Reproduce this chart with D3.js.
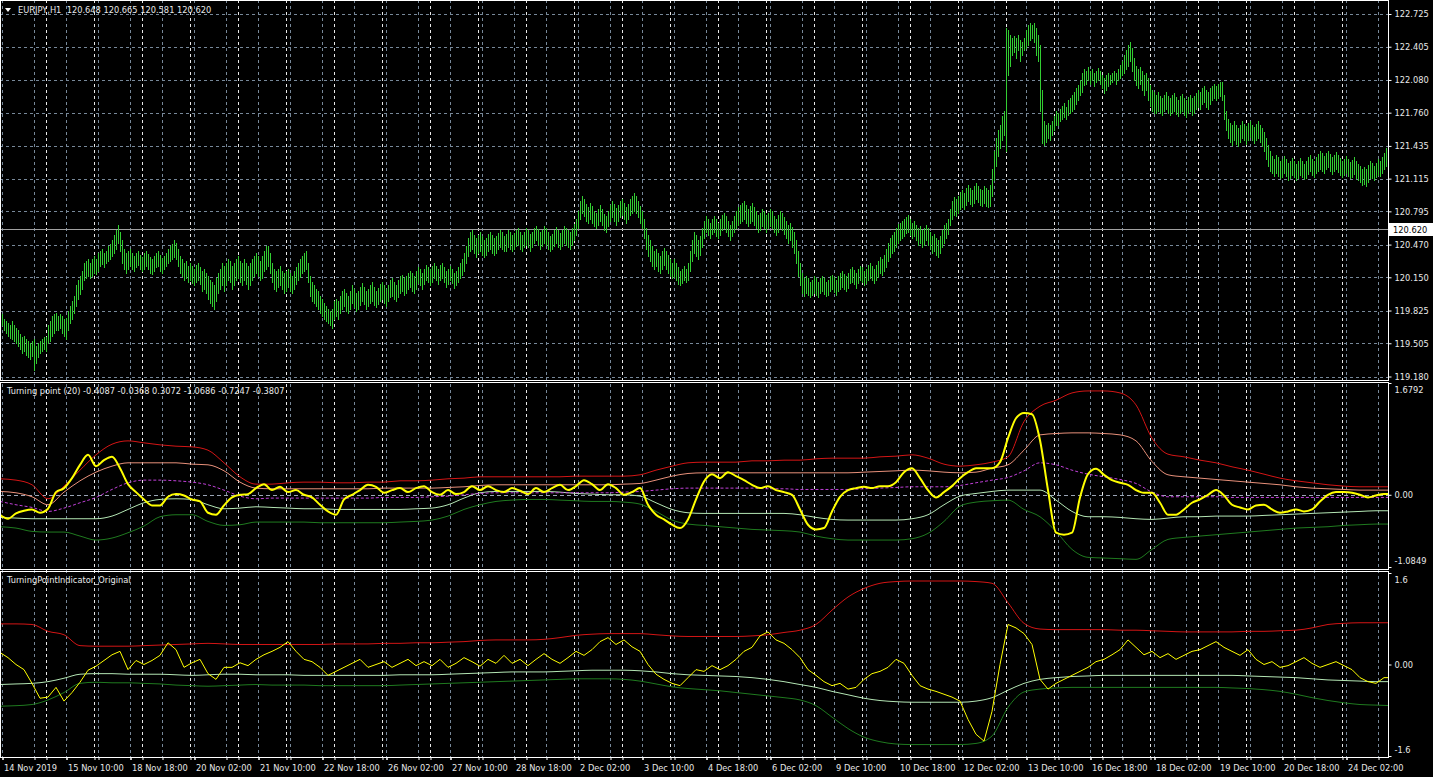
<!DOCTYPE html>
<html>
<head>
<meta charset="utf-8">
<script src="https://cdn.jsdelivr.net/npm/d3@7"></script>
<style>
  body { margin: 0; background: #000; }
  svg text { font-family: "DejaVu Sans Condensed", "DejaVu Sans", sans-serif; font-size: 9.2px; }
</style>
</head>
<body>
<script>
// ---- price bars, EURJPY H1, one value per hour from 14 Nov 01:00 ----
var barHigh = [
  // 14 Nov
  119.80,119.79,119.74,119.72,119.70,119.68,119.72,119.68,119.65,119.63,119.60,119.57,119.58,119.55,119.53,119.51,119.53,119.55,119.48,119.51,119.53,119.55,119.57,
  // 15 Nov
  119.57,119.68,119.72,119.77,119.79,119.80,119.77,119.79,119.77,119.74,119.75,119.82,119.87,119.92,119.97,120.07,120.12,120.16,120.21,120.29,120.31,120.33,120.29,120.33,
  // 18 Nov
  120.36,120.33,120.39,120.41,120.43,120.39,120.41,120.46,120.48,120.51,120.56,120.61,120.66,120.59,120.51,120.43,120.39,120.41,120.43,120.39,120.36,120.39,120.41,120.37,
  // 19 Nov
  120.35,120.39,120.41,120.38,120.35,120.33,120.36,120.39,120.41,120.37,120.34,120.36,120.39,120.43,120.46,120.48,120.51,120.49,120.43,120.36,120.33,120.29,120.31,120.26,
  // 20 Nov
  120.29,120.26,120.23,120.27,120.29,120.25,120.21,120.23,120.19,120.16,120.12,120.10,120.07,120.14,120.19,120.23,120.29,120.26,120.29,120.33,120.31,120.26,120.29,120.33,
  // 21 Nov
  120.36,120.31,120.29,120.33,120.29,120.26,120.29,120.33,120.36,120.39,120.36,120.31,120.36,120.41,120.46,120.46,120.39,120.29,120.23,120.21,120.23,120.26,120.21,120.19,
  // 22 Nov
  120.21,120.23,120.19,120.16,120.21,120.25,120.29,120.33,120.36,120.39,120.41,120.29,120.16,120.10,120.07,120.04,120.02,119.97,119.94,119.90,119.87,119.84,119.82,119.84,
  // 25 Nov
  119.92,119.94,119.92,119.97,120.02,120.04,120.00,119.97,120.02,120.07,120.04,120.00,120.02,120.06,120.09,120.06,120.02,120.04,120.07,120.10,120.06,120.02,120.05,120.08,
  // 26 Nov
  120.10,120.07,120.04,120.07,120.12,120.14,120.10,120.07,120.12,120.16,120.17,120.14,120.16,120.19,120.21,120.19,120.16,120.21,120.25,120.23,120.19,120.23,120.27,120.25,
  // 27 Nov
  120.23,120.26,120.29,120.26,120.23,120.27,120.29,120.25,120.21,120.23,120.26,120.23,120.19,120.21,120.25,120.29,120.33,120.39,120.46,120.53,120.59,120.61,120.56,120.53,
  // 28 Nov
  120.56,120.59,120.55,120.51,120.53,120.57,120.59,120.56,120.53,120.55,120.58,120.61,120.59,120.55,120.57,120.61,120.59,120.56,120.58,120.61,120.63,120.59,120.56,120.59,
  // 29 Nov
  120.63,120.61,120.57,120.59,120.63,120.65,120.62,120.59,120.61,120.65,120.63,120.59,120.55,120.57,120.61,120.64,120.61,120.58,120.61,120.65,120.63,120.61,120.59,120.63,
  // 2 Dec
  120.67,120.72,120.80,120.90,120.95,120.92,120.87,120.84,120.88,120.85,120.80,120.78,120.82,120.86,120.82,120.77,120.75,120.80,120.86,120.90,120.87,120.83,120.86,120.90,
  // 3 Dec
  120.92,120.88,120.84,120.87,120.92,120.95,120.97,120.95,120.90,120.85,120.80,120.72,120.63,120.56,120.51,120.46,120.41,120.43,120.39,120.36,120.41,120.44,120.41,120.37,
  // 4 Dec
  120.33,120.29,120.33,120.29,120.25,120.21,120.23,120.26,120.23,120.29,120.41,120.51,120.59,120.56,120.51,120.55,120.63,120.70,120.75,120.72,120.68,120.72,120.75,120.72,
  // 5 Dec
  120.68,120.72,120.76,120.78,120.75,120.70,120.66,120.70,120.75,120.80,120.84,120.86,120.88,120.90,120.86,120.82,120.85,120.88,120.84,120.80,120.76,120.78,120.82,120.80,
  // 6 Dec
  120.76,120.78,120.82,120.80,120.75,120.72,120.76,120.80,120.78,120.74,120.70,120.66,120.68,120.64,120.59,120.51,120.41,120.29,120.19,120.14,120.16,120.14,120.10,120.12,
  // 9 Dec
  120.16,120.14,120.10,120.14,120.16,120.14,120.10,120.12,120.16,120.17,120.15,120.12,120.16,120.19,120.21,120.18,120.16,120.19,120.23,120.25,120.22,120.19,120.23,120.26,
  // 10 Dec
  120.25,120.21,120.23,120.27,120.29,120.26,120.23,120.27,120.31,120.35,120.33,120.37,120.43,120.49,120.53,120.56,120.59,120.63,120.67,120.68,120.70,120.72,120.74,120.76,
  // 11 Dec
  120.72,120.68,120.70,120.66,120.63,120.65,120.61,120.63,120.66,120.63,120.59,120.55,120.57,120.53,120.51,120.55,120.61,120.66,120.68,120.72,120.82,120.90,120.94,120.92,
  // 12 Dec
  120.95,120.98,121.00,120.97,121.02,121.05,121.02,121.00,121.04,121.07,121.04,121.01,121.00,121.04,121.02,121.00,121.05,121.21,121.39,121.51,121.59,121.64,121.73,121.78,
  // 13 Dec
  122.59,122.57,122.52,122.49,122.51,122.49,122.52,122.47,122.45,122.49,122.57,122.62,122.64,122.62,122.64,122.59,122.52,122.42,121.98,121.68,121.64,121.66,121.64,121.68,
  // 16 Dec
  121.73,121.78,121.76,121.80,121.83,121.85,121.82,121.88,121.90,121.93,121.96,122.00,122.03,122.08,122.15,122.19,122.17,122.21,122.17,122.19,122.15,122.17,122.20,122.17,
  // 17 Dec
  122.13,122.10,122.13,122.15,122.13,122.15,122.17,122.15,122.19,122.23,122.27,122.32,122.37,122.42,122.45,122.39,122.29,122.22,122.19,122.21,122.17,122.13,122.15,122.10,
  // 18 Dec
  122.03,121.98,121.96,121.93,121.96,121.92,121.90,121.93,121.96,121.92,121.90,121.93,121.95,121.91,121.88,121.92,121.94,121.90,121.88,121.91,121.93,121.90,121.92,121.95,
  // 19 Dec
  121.98,121.96,122.00,122.02,121.98,121.96,122.00,122.02,122.04,122.02,122.04,122.06,122.06,121.93,121.78,121.70,121.66,121.64,121.68,121.64,121.61,121.64,121.68,121.65,
  // 20 Dec
  121.63,121.66,121.68,121.64,121.62,121.65,121.68,121.64,121.61,121.57,121.51,121.44,121.39,121.34,121.31,121.35,121.33,121.29,121.31,121.34,121.31,121.27,121.29,121.32,
  // 23 Dec
  121.29,121.26,121.29,121.32,121.29,121.26,121.29,121.33,121.35,121.31,121.29,121.33,121.36,121.39,121.37,121.34,121.37,121.39,121.36,121.33,121.35,121.38,121.35,121.32,
  // 24 Dec
  121.29,121.31,121.34,121.31,121.28,121.30,121.33,121.29,121.26,121.24,121.21,121.23,121.21,121.25,121.29,121.27,121.24,121.27,121.31,121.29,121.33,121.37,121.41
];
var barLow = [
  119.65,119.68,119.63,119.61,119.58,119.56,119.55,119.53,119.51,119.48,119.45,119.41,119.43,119.39,119.37,119.35,119.38,119.24,119.31,119.37,119.41,119.43,119.45,
  119.43,119.51,119.53,119.58,119.61,119.63,119.63,119.65,119.61,119.58,119.55,119.63,119.70,119.74,119.80,119.87,119.94,119.99,120.04,120.12,120.14,120.16,120.14,120.16,
  120.19,120.18,120.21,120.26,120.28,120.25,120.29,120.31,120.33,120.36,120.39,120.43,120.49,120.41,120.29,120.23,120.19,120.23,120.26,120.23,120.21,120.25,120.27,120.23,
  120.21,120.23,120.26,120.23,120.19,120.18,120.21,120.25,120.26,120.21,120.19,120.23,120.26,120.29,120.31,120.33,120.35,120.33,120.26,120.19,120.16,120.12,120.14,120.10,
  120.12,120.09,120.07,120.10,120.12,120.08,120.02,120.04,120.00,119.94,119.90,119.87,119.84,119.92,120.00,120.04,120.07,120.02,120.07,120.12,120.10,120.04,120.07,120.12,
  120.14,120.10,120.07,120.12,120.08,120.04,120.07,120.12,120.16,120.19,120.16,120.12,120.14,120.21,120.23,120.26,120.19,120.10,120.04,120.02,120.06,120.07,120.04,120.00,
  120.02,120.06,120.02,120.00,120.04,120.08,120.12,120.15,120.19,120.21,120.23,120.10,119.97,119.92,119.90,119.87,119.84,119.80,119.77,119.74,119.72,119.70,119.68,119.65,
  119.74,119.77,119.74,119.80,119.84,119.87,119.82,119.80,119.84,119.90,119.86,119.82,119.84,119.88,119.92,119.89,119.84,119.87,119.90,119.92,119.88,119.86,119.89,119.92,
  119.94,119.90,119.87,119.92,119.96,119.97,119.94,119.92,119.96,120.00,120.02,119.98,120.00,120.04,120.06,120.02,120.00,120.04,120.09,120.07,120.04,120.08,120.12,120.10,
  120.07,120.10,120.14,120.12,120.08,120.12,120.14,120.10,120.06,120.08,120.12,120.09,120.05,120.07,120.10,120.14,120.17,120.21,120.29,120.36,120.41,120.43,120.39,120.35,
  120.39,120.41,120.37,120.35,120.37,120.41,120.43,120.39,120.37,120.39,120.43,120.45,120.43,120.41,120.41,120.45,120.43,120.41,120.43,120.46,120.47,120.43,120.41,120.45,
  120.47,120.45,120.41,120.45,120.49,120.51,120.47,120.43,120.46,120.49,120.47,120.43,120.41,120.43,120.46,120.49,120.45,120.43,120.46,120.49,120.47,120.45,120.43,120.47,
  120.51,120.56,120.63,120.72,120.78,120.75,120.70,120.68,120.72,120.68,120.65,120.63,120.66,120.70,120.66,120.61,120.59,120.65,120.70,120.74,120.70,120.66,120.70,120.74,
  120.76,120.72,120.68,120.72,120.76,120.78,120.80,120.78,120.74,120.68,120.63,120.53,120.43,120.36,120.31,120.26,120.23,120.26,120.21,120.19,120.23,120.27,120.23,120.19,
  120.16,120.14,120.15,120.12,120.08,120.07,120.09,120.12,120.10,120.12,120.21,120.31,120.39,120.36,120.33,120.37,120.45,120.53,120.59,120.56,120.53,120.57,120.59,120.55,
  120.53,120.56,120.61,120.63,120.59,120.55,120.51,120.55,120.59,120.63,120.66,120.68,120.70,120.72,120.68,120.65,120.68,120.70,120.66,120.63,120.59,120.61,120.65,120.63,
  120.59,120.63,120.65,120.63,120.59,120.56,120.59,120.63,120.61,120.57,120.53,120.49,120.51,120.45,120.39,120.29,120.16,120.07,120.00,119.97,120.00,119.98,119.96,119.98,
  120.00,119.98,119.96,120.00,120.02,119.99,119.97,119.98,120.02,120.04,120.01,119.98,120.02,120.04,120.06,120.04,120.02,120.05,120.09,120.10,120.08,120.05,120.09,120.12,
  120.10,120.07,120.09,120.12,120.14,120.12,120.09,120.12,120.15,120.19,120.17,120.21,120.25,120.31,120.35,120.39,120.41,120.45,120.49,120.51,120.53,120.55,120.58,120.59,
  120.56,120.53,120.55,120.51,120.47,120.49,120.45,120.47,120.51,120.47,120.43,120.39,120.41,120.37,120.35,120.39,120.45,120.49,120.53,120.57,120.66,120.72,120.76,120.75,
  120.78,120.82,120.84,120.82,120.86,120.90,120.87,120.85,120.88,120.92,120.89,120.86,120.85,120.88,120.85,120.84,120.85,120.95,121.10,121.24,121.34,121.41,121.49,121.54,
  121.39,122.13,122.22,122.32,122.35,122.29,122.37,122.27,122.32,122.37,122.39,122.42,122.47,122.49,122.45,122.32,122.27,121.78,121.46,121.44,121.47,121.51,121.49,121.54,
  121.59,121.64,121.64,121.68,121.70,121.72,121.70,121.74,121.76,121.78,121.80,121.84,121.88,121.93,121.96,122.03,122.04,122.08,122.04,122.08,122.02,122.06,122.08,122.04,
  122.00,121.95,121.98,122.02,122.04,122.06,122.08,122.04,122.08,122.10,122.13,122.15,122.19,122.22,122.27,122.17,122.08,122.03,122.00,122.04,121.98,121.93,121.98,121.88,
  121.83,121.78,121.76,121.76,121.78,121.76,121.74,121.78,121.80,121.76,121.74,121.76,121.78,121.75,121.73,121.76,121.78,121.74,121.72,121.76,121.78,121.74,121.76,121.80,
  121.82,121.80,121.84,121.86,121.82,121.80,121.84,121.88,121.90,121.88,121.90,121.92,121.88,121.70,121.59,121.51,121.47,121.44,121.49,121.45,121.43,121.47,121.51,121.49,
  121.45,121.49,121.52,121.49,121.46,121.49,121.51,121.47,121.43,121.39,121.31,121.24,121.19,121.17,121.14,121.17,121.14,121.12,121.13,121.17,121.14,121.10,121.12,121.15,
  121.13,121.10,121.12,121.15,121.13,121.11,121.12,121.16,121.19,121.15,121.13,121.17,121.19,121.21,121.19,121.17,121.21,121.23,121.19,121.16,121.19,121.21,121.18,121.15,
  121.13,121.15,121.17,121.14,121.12,121.13,121.16,121.12,121.10,121.08,121.05,121.06,121.04,121.08,121.12,121.12,121.10,121.13,121.15,121.14,121.17,121.21,121.24
];
var lastPrice = 120.620;
var mainTicks = [122.725,122.405,122.080,121.760,121.435,121.115,120.795,120.470,120.150,119.825,119.505,119.180];

// ---- Turning point (20): one value every 8 bars (bands), every 4 bars (main) ----
var tpRed = [0.24,0.22,0.15,-0.06,0.13,0.37,0.60,0.76,
  0.81,0.78,0.75,0.73,0.72,0.67,0.48,0.27,
  0.16,0.16,0.18,0.19,0.19,0.18,0.18,0.19,
  0.19,0.21,0.21,0.22,0.24,0.25,0.27,0.27,
  0.27,0.27,0.27,0.27,0.28,0.28,0.28,0.28,
  0.30,0.37,0.43,0.48,0.49,0.49,0.49,0.51,
  0.51,0.52,0.52,0.54,0.55,0.55,0.55,0.57,
  0.58,0.60,0.55,0.46,0.43,0.45,0.49,0.57,
  1.10,1.33,1.42,1.53,1.56,1.56,1.53,1.35,
  0.85,0.61,0.57,0.52,0.48,0.42,0.37,0.31,
  0.25,0.21,0.18,0.15,0.13,0.12,0.12,0.12];
var tpSalmon = [0.05,0.03,-0.03,-0.15,0.04,0.21,0.34,0.43,
  0.48,0.48,0.48,0.48,0.46,0.45,0.36,0.19,
  0.10,0.09,0.09,0.09,0.09,0.09,0.09,0.09,
  0.10,0.10,0.10,0.10,0.11,0.12,0.14,0.15,
  0.15,0.15,0.15,0.15,0.15,0.15,0.15,0.16,
  0.17,0.22,0.28,0.32,0.33,0.33,0.33,0.33,
  0.33,0.33,0.33,0.33,0.33,0.33,0.34,0.35,
  0.36,0.37,0.36,0.34,0.33,0.34,0.40,0.45,
  0.67,0.90,0.92,0.93,0.93,0.92,0.90,0.81,
  0.50,0.30,0.27,0.25,0.23,0.21,0.19,0.17,
  0.15,0.12,0.10,0.09,0.08,0.07,0.07,0.07];
var tpMid = [-0.10,-0.15,-0.19,-0.25,-0.20,-0.12,-0.04,0.08,
  0.18,0.22,0.22,0.21,0.19,0.15,0.07,-0.02,
  -0.06,-0.05,-0.05,-0.05,-0.05,-0.05,-0.05,-0.05,
  -0.04,-0.04,-0.04,-0.03,-0.02,0.00,0.02,0.03,
  0.03,0.03,0.03,0.03,0.03,0.03,0.03,0.04,
  0.05,0.07,0.09,0.10,0.10,0.10,0.10,0.10,
  0.09,0.09,0.08,0.08,0.08,0.08,0.09,0.10,
  0.11,0.12,0.12,0.12,0.14,0.18,0.22,0.26,
  0.36,0.48,0.45,0.37,0.31,0.27,0.23,0.17,
  0.04,-0.03,-0.03,-0.03,-0.03,-0.04,-0.04,-0.04,
  -0.04,-0.04,-0.04,-0.04,-0.04,-0.04,-0.04,-0.04];
var tpLight = [-0.34,-0.35,-0.36,-0.36,-0.36,-0.36,-0.36,-0.32,
  -0.22,-0.12,-0.07,-0.06,-0.07,-0.15,-0.21,-0.20,
  -0.18,-0.19,-0.20,-0.21,-0.21,-0.22,-0.22,-0.22,
  -0.22,-0.22,-0.21,-0.20,-0.15,-0.05,0.03,0.05,
  0.05,0.05,0.05,0.04,0.02,0.01,0.00,0.00,
  -0.02,-0.12,-0.22,-0.27,-0.28,-0.28,-0.28,-0.28,
  -0.28,-0.28,-0.30,-0.34,-0.37,-0.38,-0.38,-0.38,
  -0.38,-0.36,-0.30,-0.15,-0.02,0.02,0.05,0.07,
  0.07,0.07,-0.08,-0.25,-0.33,-0.33,-0.34,-0.36,
  -0.37,-0.35,-0.33,-0.33,-0.32,-0.32,-0.32,-0.31,
  -0.30,-0.29,-0.28,-0.27,-0.26,-0.25,-0.24,-0.24];
var tpDark = [-0.48,-0.50,-0.55,-0.56,-0.56,-0.62,-0.68,-0.65,
  -0.57,-0.47,-0.33,-0.30,-0.30,-0.40,-0.46,-0.45,
  -0.41,-0.41,-0.41,-0.41,-0.42,-0.42,-0.42,-0.42,
  -0.42,-0.41,-0.40,-0.38,-0.32,-0.22,-0.15,-0.10,
  -0.08,-0.07,-0.07,-0.08,-0.09,-0.10,-0.10,-0.11,
  -0.14,-0.25,-0.38,-0.44,-0.46,-0.48,-0.50,-0.52,
  -0.53,-0.54,-0.56,-0.62,-0.66,-0.68,-0.68,-0.68,
  -0.68,-0.66,-0.58,-0.40,-0.17,-0.11,-0.09,-0.08,
  -0.22,-0.33,-0.55,-0.82,-0.94,-0.95,-0.96,-0.97,
  -0.82,-0.67,-0.64,-0.62,-0.60,-0.58,-0.56,-0.54,
  -0.52,-0.50,-0.49,-0.48,-0.46,-0.45,-0.44,-0.44];
var tpMain = [-0.30,-0.36,-0.28,-0.24,-0.22,-0.27,-0.21,0.04,
  0.10,0.25,0.45,0.60,0.43,0.52,0.57,0.40,
  0.16,0.04,-0.07,-0.16,-0.16,-0.03,0.01,-0.01,
  -0.07,-0.10,-0.27,-0.30,-0.16,-0.04,0.00,0.01,
  0.10,0.16,0.07,0.12,0.04,0.07,0.00,-0.04,
  -0.15,-0.25,-0.30,-0.07,0.00,0.07,0.15,0.12,
  0.03,0.07,0.10,0.04,0.10,0.13,0.04,0.00,
  0.07,0.01,0.04,0.13,0.07,0.13,0.07,0.04,
  0.10,0.06,0.01,0.10,0.04,0.10,0.15,0.07,
  0.13,0.22,0.16,0.07,0.16,0.10,0.00,0.04,
  0.10,-0.15,-0.30,-0.37,-0.45,-0.50,-0.37,-0.07,
  0.20,0.31,0.25,0.34,0.28,0.22,0.15,0.10,
  0.13,0.07,0.04,0.00,-0.22,-0.45,-0.52,-0.50,
  -0.25,-0.03,0.07,0.10,0.12,0.10,0.13,0.13,
  0.19,0.34,0.40,0.25,0.07,-0.04,0.04,0.13,
  0.25,0.34,0.40,0.40,0.40,0.49,0.85,1.15,
  1.23,1.21,0.82,0.07,-0.57,-0.60,-0.57,-0.04,
  0.31,0.39,0.30,0.22,0.18,0.15,0.07,0.03,
  0.03,-0.12,-0.30,-0.30,-0.22,-0.12,-0.07,0.00,
  0.07,-0.01,-0.15,-0.19,-0.22,-0.16,-0.15,-0.22,
  -0.27,-0.25,-0.22,-0.25,-0.22,-0.10,0.00,0.04,
  0.04,0.03,0.00,-0.04,-0.01,0.01,0.01];

// ---- TurningPointIndicator_Original ----
var origRed = [0.71,0.71,0.70,0.58,0.52,0.33,0.32,0.32,
  0.32,0.33,0.34,0.35,0.36,0.37,0.36,0.35,
  0.35,0.35,0.35,0.35,0.35,0.36,0.36,0.36,
  0.37,0.37,0.38,0.38,0.39,0.40,0.42,0.43,
  0.43,0.43,0.44,0.47,0.51,0.53,0.54,0.54,
  0.54,0.52,0.50,0.49,0.49,0.49,0.49,0.50,
  0.52,0.56,0.60,0.70,0.95,1.18,1.33,1.42,
  1.45,1.46,1.46,1.46,1.46,1.45,1.42,1.08,
  0.72,0.62,0.61,0.61,0.61,0.61,0.60,0.60,
  0.59,0.58,0.57,0.57,0.57,0.57,0.58,0.58,
  0.59,0.60,0.64,0.70,0.72,0.73,0.73,0.73];
var origLight = [-0.35,-0.34,-0.33,-0.30,-0.24,-0.17,-0.16,-0.16,
  -0.17,-0.17,-0.17,-0.18,-0.19,-0.18,-0.17,-0.17,
  -0.18,-0.18,-0.18,-0.19,-0.19,-0.19,-0.19,-0.19,
  -0.19,-0.18,-0.18,-0.18,-0.17,-0.16,-0.15,-0.14,
  -0.13,-0.13,-0.13,-0.12,-0.11,-0.10,-0.10,-0.10,
  -0.11,-0.13,-0.16,-0.18,-0.19,-0.20,-0.21,-0.23,
  -0.26,-0.30,-0.35,-0.40,-0.47,-0.53,-0.59,-0.63,
  -0.65,-0.66,-0.66,-0.66,-0.66,-0.64,-0.58,-0.45,
  -0.33,-0.26,-0.23,-0.21,-0.20,-0.19,-0.19,-0.19,
  -0.19,-0.19,-0.19,-0.19,-0.19,-0.19,-0.20,-0.21,
  -0.22,-0.23,-0.25,-0.27,-0.28,-0.29,-0.30,-0.30];
var origDark = [-0.73,-0.72,-0.70,-0.62,-0.49,-0.33,-0.31,-0.32,
  -0.32,-0.33,-0.34,-0.36,-0.37,-0.38,-0.37,-0.36,
  -0.35,-0.36,-0.36,-0.36,-0.37,-0.37,-0.37,-0.37,
  -0.37,-0.36,-0.35,-0.34,-0.33,-0.32,-0.31,-0.30,
  -0.29,-0.28,-0.27,-0.26,-0.25,-0.25,-0.25,-0.26,
  -0.29,-0.34,-0.39,-0.42,-0.44,-0.46,-0.49,-0.52,
  -0.55,-0.58,-0.62,-0.72,-0.92,-1.12,-1.27,-1.35,
  -1.39,-1.40,-1.40,-1.40,-1.40,-1.38,-1.25,-0.75,
  -0.48,-0.43,-0.41,-0.40,-0.40,-0.40,-0.40,-0.40,
  -0.40,-0.40,-0.40,-0.40,-0.40,-0.41,-0.42,-0.44,
  -0.47,-0.52,-0.58,-0.63,-0.67,-0.70,-0.71,-0.72];
var origMain = [0.21,0.12,0.00,-0.09,-0.33,-0.59,-0.57,-0.40,
  -0.64,-0.49,-0.31,-0.10,-0.03,0.07,0.17,0.23,
  -0.09,0.07,0.00,0.07,0.16,0.38,0.26,-0.05,
  0.03,0.09,-0.16,-0.26,-0.05,-0.05,0.03,-0.02,
  0.09,0.17,0.23,0.30,0.40,0.23,0.09,0.05,
  -0.05,-0.19,-0.12,-0.05,0.02,0.09,-0.05,0.00,
  0.05,-0.05,0.02,0.09,-0.02,0.05,-0.02,0.09,
  -0.05,0.02,0.12,0.05,-0.03,0.09,0.02,0.16,
  0.02,0.09,-0.02,0.09,0.19,0.09,0.02,0.12,
  0.23,0.16,0.26,0.40,0.47,0.35,0.43,0.31,
  0.23,0.00,-0.17,-0.26,-0.33,-0.37,-0.23,-0.09,
  -0.12,-0.02,-0.09,-0.02,0.09,0.23,0.30,0.50,
  0.57,0.43,0.37,0.26,0.12,-0.09,-0.19,-0.30,
  -0.37,-0.33,-0.43,-0.40,-0.26,-0.16,-0.12,-0.05,
  0.09,0.02,-0.19,-0.37,-0.43,-0.47,-0.52,-0.57,
  -0.64,-0.96,-1.22,-1.34,-0.82,0.00,0.70,0.64,
  0.54,0.35,-0.26,-0.43,-0.33,-0.26,-0.19,-0.12,
  -0.05,0.05,0.09,0.17,0.26,0.43,0.30,0.17,
  0.23,0.12,0.19,0.09,0.16,0.23,0.26,0.33,
  0.40,0.30,0.23,0.16,0.26,0.09,0.00,0.05,
  -0.05,-0.02,0.05,0.12,0.02,-0.05,0.00,0.05,
  -0.02,-0.09,-0.23,-0.30,-0.33,-0.23,-0.23];

// time axis labels, one every 32 bars starting at bar 1
var timeLabels = ["14 Nov 2019","15 Nov 10:00","18 Nov 18:00","20 Nov 02:00","21 Nov 10:00","22 Nov 18:00",
  "26 Nov 02:00","27 Nov 10:00","28 Nov 18:00","2 Dec 02:00","3 Dec 10:00","4 Dec 18:00","6 Dec 02:00",
  "9 Dec 10:00","10 Dec 18:00","12 Dec 02:00","13 Dec 10:00","16 Dec 18:00","18 Dec 02:00","19 Dec 10:00",
  "20 Dec 18:00","24 Dec 02:00"];

var BAND_STEP = 8, MAIN_STEP = 4;
var W = 1433, H = 777, plotW = 1388;

var svg = d3.select("body").append("svg")
    .attr("width", W).attr("height", H)
    .style("background", "#000");

var x = d3.scaleLinear().domain([0, 694]).range([0, plotW]);
var yMain = d3.scaleLinear().domain([119.180, 122.725]).range([376.5, 14]);
var yTp = d3.scaleLinear().domain([-1.0849, 1.6792]).range([567, 383]);
var yOrig = d3.scaleLinear().domain([-1.6, 1.6]).range([756, 573]);

var panels = [
  {id: "clipMain", top: 0, bottom: 380},
  {id: "clipTp", top: 382, bottom: 569},
  {id: "clipOrig", top: 571, bottom: 757}
];
var defs = svg.append("defs");
panels.forEach(function(p) {
  defs.append("clipPath").attr("id", p.id).append("rect")
    .attr("x", 0).attr("y", p.top).attr("width", plotW).attr("height", p.bottom - p.top);
});

// vertical grid (every 16 bars) and day separators
var gridBars = d3.range(1, 694, 16);
var dayBars = d3.range(23, 694, 24);
var grid = svg.append("g");
grid.selectAll("line.vg").data(gridBars).join("line")
    .attr("class", "vg")
    .attr("x1", function(d) { return Math.round(x(d)) + 0.5; })
    .attr("x2", function(d) { return Math.round(x(d)) + 0.5; })
    .attr("y1", 0).attr("y2", 757)
    .attr("stroke", "#778899").attr("stroke-dasharray", "3,3");
grid.selectAll("line.ds").data(dayBars).join("line")
    .attr("class", "ds")
    .attr("x1", function(d) { return Math.round(x(d)) + 0.5; })
    .attr("x2", function(d) { return Math.round(x(d)) + 0.5; })
    .attr("y1", 0).attr("y2", 757)
    .attr("stroke", "#e8e8e8").attr("stroke-dasharray", "3,3");
// horizontal grid in the price window
grid.selectAll("line.hg").data(mainTicks).join("line")
    .attr("class", "hg")
    .attr("x1", 0).attr("x2", plotW)
    .attr("y1", function(d) { return Math.round(yMain(d)) + 0.5; })
    .attr("y2", function(d) { return Math.round(yMain(d)) + 0.5; })
    .attr("stroke", "#778899").attr("stroke-dasharray", "3,3");
// zero level in the Turning point window
grid.append("line")
    .attr("x1", 0).attr("x2", plotW)
    .attr("y1", Math.round(yTp(0)) + 0.5).attr("y2", Math.round(yTp(0)) + 0.5)
    .attr("stroke", "#9aa4b4").attr("stroke-dasharray", "4,3");

// current price line
svg.append("line")
    .attr("x1", 0).attr("x2", plotW)
    .attr("y1", Math.round(yMain(lastPrice)) + 0.5).attr("y2", Math.round(yMain(lastPrice)) + 0.5)
    .attr("stroke", "#a0a0a0");

// bars
svg.append("g").attr("clip-path", "url(#clipMain)")
  .selectAll("line").data(barHigh).join("line")
    .attr("x1", function(d, i) { return x(i) + 0.5; })
    .attr("x2", function(d, i) { return x(i) + 0.5; })
    .attr("y1", function(d) { return Math.round(yMain(d)); })
    .attr("y2", function(d, i) { return Math.round(yMain(barLow[i])) + 1; })
    .attr("stroke", "#32cd32").attr("stroke-width", 1);

function drawLine(clip, data, step, y, color, width, dash, curve) {
  var line = d3.line()
      .x(function(d, i) { return x(i * step); })
      .y(function(d) { return y(d); })
      .curve(curve || d3.curveLinear);
  svg.append("path").datum(data)
      .attr("clip-path", "url(#" + clip + ")")
      .attr("d", line)
      .attr("fill", "none")
      .attr("stroke", color)
      .attr("stroke-width", width)
      .attr("stroke-dasharray", dash || null);
}

var smooth = d3.curveMonotoneX;
drawLine("clipTp", tpDark, BAND_STEP, yTp, "#1f7a1f", 1, null, smooth);
drawLine("clipTp", tpLight, BAND_STEP, yTp, "#b4e6b4", 1, null, smooth);
drawLine("clipTp", tpMid, BAND_STEP, yTp, "#c040d8", 1, "3,2", smooth);
drawLine("clipTp", tpSalmon, BAND_STEP, yTp, "#e8907a", 1, null, smooth);
drawLine("clipTp", tpRed, BAND_STEP, yTp, "#d41515", 1, null, smooth);
drawLine("clipTp", tpMain, MAIN_STEP, yTp, "#ffff00", 2, null, smooth);

drawLine("clipOrig", origDark, BAND_STEP, yOrig, "#1f7a1f", 1, null, smooth);
drawLine("clipOrig", origLight, BAND_STEP, yOrig, "#b4e6b4", 1, null, smooth);
drawLine("clipOrig", origRed, BAND_STEP, yOrig, "#d41515", 1, null, smooth);
drawLine("clipOrig", origMain, MAIN_STEP, yOrig, "#ffff00", 1, null);

// frames
var frame = svg.append("g").attr("fill", "none").attr("stroke", "#ffffff");
panels.forEach(function(p) {
  frame.append("rect").attr("x", 0.5).attr("y", p.top + 0.5)
    .attr("width", plotW).attr("height", p.bottom - p.top);
});

// right axes
function rightAxis(scale, values, fmt) {
  var ax = d3.axisRight(scale).tickValues(values).tickFormat(fmt).tickSize(3).tickPadding(3);
  var g = svg.append("g").attr("transform", "translate(" + (plotW + 0.5) + ",0)").call(ax);
  g.select(".domain").remove();
  g.attr("font-family", null).attr("font-size", null).attr("color", "#ffffff");
  g.selectAll("text").attr("fill", "#e8e8e8");
  return g;
}
rightAxis(yMain, mainTicks, d3.format(".3f"));
var tpAx = rightAxis(yTp, [1.6792, 0, -1.0849], function(d) { return d === 0 ? "0.00" : d.toFixed(4); });
var orAx = rightAxis(yOrig, [1.6, 0, -1.6], function(d) { return d === 0 ? "0.00" : d.toFixed(1); });
[tpAx, orAx].forEach(function(g) {
  g.selectAll(".tick text").attr("y", function(d) { return d > 0 ? 7 : (d < 0 ? -6 : 0); });
});

// current price label
var lpY = Math.round(yMain(lastPrice));
svg.append("rect").attr("x", plotW + 1).attr("y", lpY - 6).attr("width", W - plotW - 1).attr("height", 13).attr("fill", "#ffffff");
svg.append("text").attr("x", plotW + 5).attr("y", lpY + 4).attr("fill", "#000").text(lastPrice.toFixed(3));

// time axis: small ticks at grid lines and day separators, labels every 32 bars
var minorAx = d3.axisBottom(x).tickValues(gridBars.concat(dayBars)).tickFormat("").tickSize(3);
var gm = svg.append("g").attr("transform", "translate(0.5,757)").call(minorAx);
gm.select(".domain").remove();
gm.attr("color", "#ffffff");

var labelBars = timeLabels.map(function(d, i) { return 1 + 32 * i; });
var tAx = d3.axisBottom(x).tickValues(labelBars)
    .tickFormat(function(d, i) { return timeLabels[i]; })
    .tickSize(3).tickPadding(4);
var gt = svg.append("g").attr("transform", "translate(0.5,757)").call(tAx);
gt.select(".domain").remove();
gt.attr("font-family", null).attr("font-size", null).attr("color", "#ffffff");
gt.selectAll("text").attr("text-anchor", "start").attr("x", 1).attr("fill", "#e8e8e8");

// window captions
svg.append("path").attr("d", "M5,8 L11,8 L8,12 Z").attr("fill", "#ffffff");
svg.append("text").attr("x", 18).attr("y", 13).attr("fill", "#e8e8e8").style("white-space", "pre")
    .text("EURJPY,H1  120.648 120.665 120.581 120.620");
svg.append("text").attr("x", 7).attr("y", 394).attr("fill", "#e8e8e8")
    .text("Turning point (20) -0.4087 -0.0368 0.3072 -1.0686 -0.7247 -0.3807");
svg.append("text").attr("x", 7).attr("y", 583).attr("fill", "#e8e8e8")
    .text("TurningPointIndicator_Original");
</script>
</body>
</html>
